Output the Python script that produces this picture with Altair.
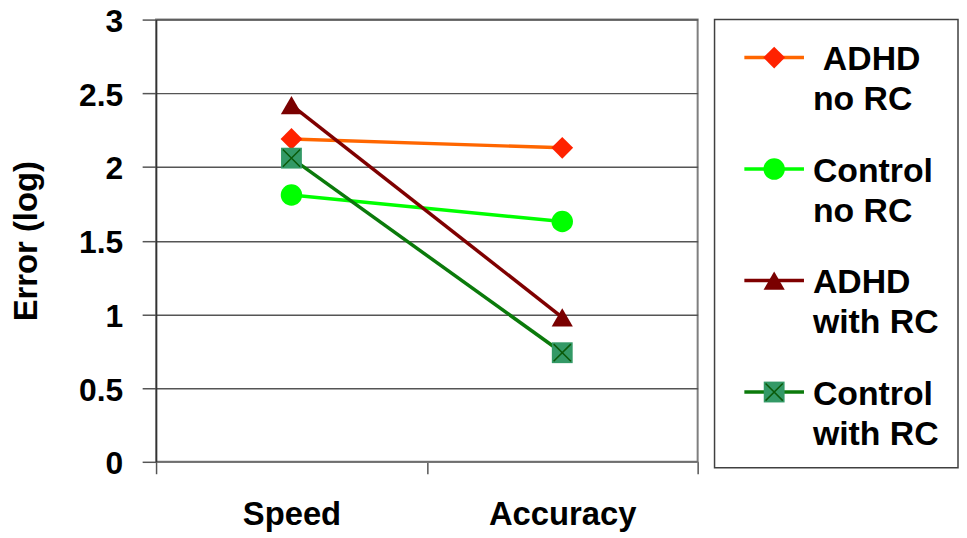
import altair as alt
import pandas as pd

categories = ["Speed", "Accuracy"]
series = ["ADHD no RC", "Control no RC", "ADHD with RC", "Control with RC"]
speed_values = [2.19, 1.81, 2.42, 2.06]
accuracy_values = [2.13, 1.63, 0.98, 0.74]
legend_line1 = ["ADHD", "Control", "ADHD", "Control"]
legend_line2 = ["no RC", "no RC", "with RC", "with RC"]
y_ticks = [0, 0.5, 1, 1.5, 2, 2.5, 3]

line_colors = ["#FF6600", "#00FF00", "#7F0000", "#0B7A0B"]
marker_colors = ["#FF2200", "#00FF00", "#7A0000", "#339966"]
marker_shapes = ["diamond", "circle", "triangle-up", "square"]
marker_sizes = [480, 440, 400, 330]

FONT = "Liberation Sans"

rows = []
for s, sp, ac in zip(series, speed_values, accuracy_values):
    rows.append({"series": s, "condition": categories[0], "error": sp})
    rows.append({"series": s, "condition": categories[1], "error": ac})
df = pd.DataFrame(rows)

legend_df = pd.DataFrame({"series": series, "line1": legend_line1, "line2": legend_line2})

line_color = alt.Color("series:N", scale=alt.Scale(domain=series, range=line_colors), legend=None)
marker_fill = alt.Fill("series:N", scale=alt.Scale(domain=series, range=marker_colors), legend=None)
marker_shape = alt.Shape("series:N", scale=alt.Scale(domain=series, range=marker_shapes), legend=None)
marker_size = alt.Size("series:N", scale=alt.Scale(domain=series, range=marker_sizes), legend=None)

x_enc = alt.X(
    "condition:N", sort=categories, bandPosition=0.5,
    scale=alt.Scale(type="band", paddingInner=0, paddingOuter=0),
    axis=alt.Axis(title=None, labelAngle=0, tickBand="extent", tickSize=12,
                  labelPadding=25.5, labelFontSize=33,
                  domainColor="#777777", domainWidth=1.5,
                  tickColor="#555555", tickWidth=1.5, grid=False),
)
y_enc = alt.Y(
    "error:Q", scale=alt.Scale(domain=[0, 3], nice=False, zero=True),
    axis=alt.Axis(values=y_ticks, format="~g", title="Error (log)", tickSize=14,
                  labelPadding=19.5, labelOffset=2, labelFontSize=32,
                  titlePadding=35, titleFontSize=33,
                  labelFlush=False, labelOverlap=False,
                  domainColor="#333333", domainWidth=1.5, tickColor="#555555", tickWidth=1.5,
                  grid=True, gridColor="#555555", gridWidth=1.5),
)

base = alt.Chart(df)
lines = base.mark_line(strokeWidth=3.5).encode(x=x_enc, y=y_enc, color=line_color, detail="series:N")
points = base.mark_point(filled=True, opacity=1).encode(
    x=x_enc, y=y_enc, fill=marker_fill, shape=marker_shape, size=marker_size
)
crosses = base.transform_filter(alt.datum.series == series[3]).mark_point(
    shape="M-1,-1L1,1M-1,1L1,-1", filled=False, stroke="#0A5A0A", strokeWidth=1.5, opacity=1, size=300
).encode(x=x_enc, y=y_enc)

main = alt.layer(lines, points, crosses).properties(
    width=545, height=445,
    view=alt.ViewBackground(stroke="#7F7F7F", strokeWidth=2),
)

ly = alt.Y("series:N", sort=series, scale=alt.Scale(type="point", padding=0.51), axis=None)
leg_base = alt.Chart(legend_df)
leg_lines = leg_base.mark_rule(strokeWidth=3.5, yOffset=-19).encode(
    x=alt.value(30), x2=alt.value(90), y=ly, color=line_color
)
leg_pts = leg_base.mark_point(filled=True, opacity=1, yOffset=-19).encode(
    x=alt.value(60), y=ly, fill=marker_fill, shape=marker_shape, size=marker_size
)
leg_cross = leg_base.transform_filter(alt.datum.series == series[3]).mark_point(
    shape="M-1,-1L1,1M-1,1L1,-1", filled=False, stroke="#0A5A0A", strokeWidth=1.5,
    opacity=1, size=300, yOffset=-19
).encode(x=alt.value(60), y=ly)
text_style = dict(align="left", baseline="middle", font=FONT, fontWeight="bold",
                  fontSize=34, color="black")
leg_t1a = leg_base.transform_filter(alt.datum.series == series[0]).mark_text(
    yOffset=-16, dx=10, **text_style
).encode(x=alt.value(99), y=ly, text="line1:N")
leg_t1b = leg_base.transform_filter(alt.datum.series != series[0]).mark_text(
    yOffset=-16, **text_style
).encode(x=alt.value(99), y=ly, text="line1:N")
leg_t2 = leg_base.mark_text(yOffset=24, **text_style).encode(
    x=alt.value(99), y=ly, text="line2:N"
)

legend_panel = alt.layer(leg_lines, leg_pts, leg_cross, leg_t1a, leg_t1b, leg_t2).properties(
    width=245, height=451,
    view=alt.ViewBackground(stroke="#404040", strokeWidth=1.5),
)

chart = alt.hconcat(main, legend_panel, spacing=14).properties(
    padding={"left": 2, "top": -5, "right": 0, "bottom": 0},
    background="white",
).configure_view(strokeWidth=0).configure_axis(
    labelFont=FONT, labelFontWeight="bold", labelColor="black",
    titleFont=FONT, titleFontWeight="bold", titleColor="black",
)

chart.save("out.html", embed_options={"renderer": "svg", "actions": False})
